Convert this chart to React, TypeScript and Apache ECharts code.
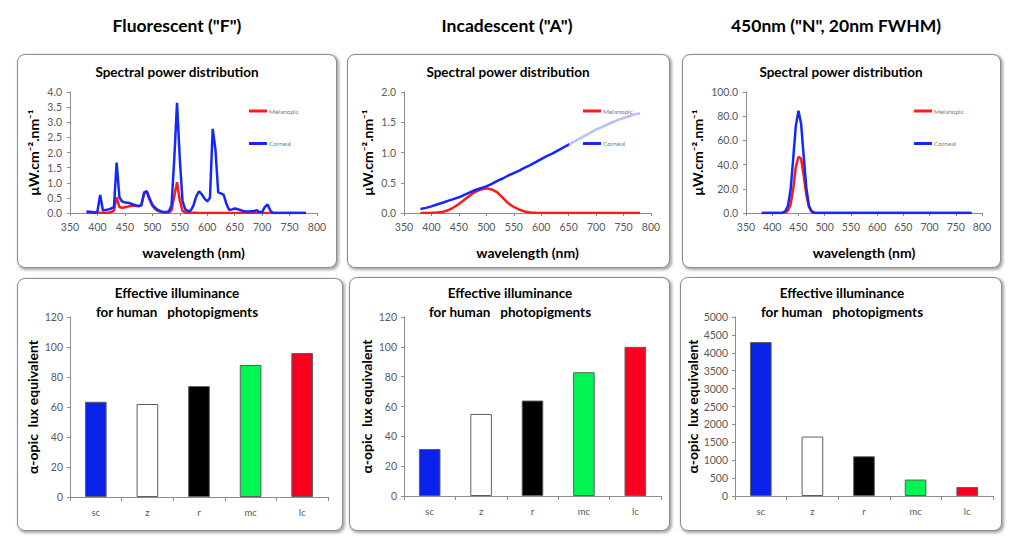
import React, { useEffect, useRef } from "react";
import * as echarts from "echarts";

const FONT = "Lato, 'Open Sans', sans-serif";

// ---------- Fluorescent ("F") spectra ----------
const F_WL = [380, 385, 390, 395, 400, 405, 410, 415, 420, 425, 430, 435, 440, 445, 450, 455, 460, 465, 470, 475, 480, 485, 490, 495, 500, 505, 510, 515, 520, 525, 530, 535, 540, 545, 550, 555, 560, 565, 570, 575, 580, 585, 590, 595, 600, 605, 610, 615, 620, 625, 630, 635, 640, 645, 650, 655, 660, 665, 670, 675, 680, 685, 690, 695, 700, 705, 710, 715, 720, 780];
const F_CORNEAL = [0.05, 0.04, 0.03, 0.01, 0.05, 0.6, 0.08, 0.1, 0.12, 0.15, 0.19, 1.67, 0.52, 0.38, 0.35, 0.34, 0.32, 0.28, 0.25, 0.23, 0.26, 0.68, 0.72, 0.48, 0.28, 0.17, 0.1, 0.06, 0.03, 0.03, 0.05, 0.25, 1.8, 3.64, 1.8, 0.39, 0.12, 0.06, 0.08, 0.25, 0.55, 0.72, 0.62, 0.48, 0.38, 0.5, 2.78, 2.1, 0.68, 0.65, 0.6, 0.3, 0.1, 0.12, 0.15, 0.13, 0.1, 0.07, 0.05, 0.05, 0.06, 0.06, 0.09, 0.03, 0.03, 0.2, 0.28, 0.08, 0, 0];
const F_MELANOPIC = [0, 0, 0, 0, 0.003, 0.01, 0.004, 0.005, 0.01, 0.03, 0.08, 0.52, 0.2, 0.17, 0.19, 0.21, 0.23, 0.24, 0.24, 0.22, 0.25, 0.65, 0.68, 0.44, 0.24, 0.13, 0.07, 0.04, 0.02, 0.015, 0.02, 0.09, 0.55, 1.02, 0.42, 0.07, 0.015, 0.005, 0.003, 0.005, 0.005, 0, 0, 0, 0, 0, 0, 0, 0, 0, 0, 0, 0, 0, 0, 0, 0, 0, 0, 0, 0, 0, 0, 0, 0, 0, 0, 0, 0, 0];

// ---------- Incandescent ("A") spectra ----------
const A_WL = [380, 390, 400, 410, 420, 430, 440, 450, 460, 470, 480, 490, 500, 510, 520, 530, 540, 550, 560, 570, 580, 590, 600, 610, 620, 630, 640, 650, 660, 670, 680, 690, 700, 710, 720, 730, 740, 750, 760, 770, 780];
const A_CORNEAL = [0.066, 0.085, 0.11, 0.14, 0.17, 0.2, 0.23, 0.26, 0.3, 0.34, 0.38, 0.41, 0.44, 0.48, 0.53, 0.57, 0.62, 0.66, 0.7, 0.75, 0.79, 0.84, 0.89, 0.94, 0.98, 1.03, 1.08, 1.13, 1.18, 1.23, 1.28, 1.33, 1.38, 1.42, 1.46, 1.5, 1.54, 1.57, 1.6, 1.63, 1.65];
const A_MELANOPIC = [0, 0, 0.003, 0.008, 0.017, 0.045, 0.09, 0.15, 0.22, 0.29, 0.35, 0.39, 0.41, 0.39, 0.34, 0.25, 0.16, 0.1, 0.055, 0.025, 0.01, 0.003, 0, 0, 0, 0, 0, 0, 0, 0, 0, 0, 0, 0, 0, 0, 0, 0, 0, 0, 0];

// ---------- 450nm ("N") spectra ----------
const N_WL = [380, 415, 420, 425, 430, 435, 440, 445, 450, 455, 460, 465, 470, 475, 480, 485, 780];
const N_CORNEAL = [0, 0, 0.3, 1.5, 6, 19, 45, 72, 84.5, 74, 47, 21, 6, 1.5, 0.3, 0, 0];
const N_MELANOPIC = [0, 0, 0.1, 0.4, 2, 7, 20, 38, 46.5, 45, 31, 15, 5, 1.2, 0.3, 0, 0];

// ---------- Effective illuminance bars ----------
const BAR_CATEGORIES = ["sc", "z", "r", "mc", "lc"];
const F_BARS = [63.5, 62, 74, 88, 96];
const A_BARS = [31.5, 55, 64, 83, 100];
const N_BARS = [4300, 1660, 1110, 460, 250];
const BAR_COLORS = ["#0A22EA", "#FFFFFF", "#000000", "#00F552", "#F8001E"];

const COLUMN_TITLES = ['Fluorescent ("F")', 'Incadescent ("A")', '450nm ("N", 20nm FWHM)'];
const LEGEND_NAMES = ["Melanopic", "Corneal"];

const RED = "#FF1A1A";
const BLUE = "#1428FA";

const pairs = (xs: number[], ys: number[]) => xs.map((x, i) => [x, ys[i]]);

const AXIS_COLOR = "#8c8c8c";
const LABEL_COLOR = "#595959";

const lineGrids = [
  { left: 70, top: 92, width: 247, height: 121 },
  { left: 404, top: 92, width: 247, height: 121 },
  { left: 746, top: 92, width: 236, height: 121 },
];
const barGrids = [
  { left: 70, top: 317, width: 258, height: 180 },
  { left: 404, top: 317, width: 257, height: 179 },
  { left: 735, top: 317, width: 258, height: 179 },
];

const lineY = [
  { max: 4, interval: 0.5 },
  { max: 2, interval: 0.5 },
  { max: 100, interval: 20 },
];
const barY = [
  { max: 120, interval: 20 },
  { max: 120, interval: 20 },
  { max: 5000, interval: 500 },
];

const boxes = [
  { x: 17, y: 54, w: 320, h: 214 },
  { x: 347, y: 54, w: 323, h: 214 },
  { x: 682, y: 54, w: 319, h: 214 },
  { x: 17, y: 278, w: 326, h: 253 },
  { x: 349, y: 277, w: 321, h: 254 },
  { x: 680, y: 277, w: 322, h: 254 },
];

const headerX = [177, 507, 836];
const topTitleX = [177, 508, 841];
const botTitleX = [177, 510, 842];
const legendLeft = [249, 583, 914];

function txt(text: string, x: number, y: number, size: number, weight = "bold") {
  return {
    type: "text",
    x,
    y,
    silent: true,
    style: {
      text,
      fill: "#000",
      fontSize: size,
      fontWeight: weight,
      fontFamily: FONT,
      align: "center",
      verticalAlign: "middle",
      textAlign: "center",
      textVerticalAlign: "middle",
    },
  };
}

function buildOption() {
  const grid: any[] = [...lineGrids, ...barGrids];
  const xAxis: any[] = [];
  const yAxis: any[] = [];
  const series: any[] = [];

  const lineData = [
    [pairs(F_WL, F_MELANOPIC), pairs(F_WL, F_CORNEAL)],
    [pairs(A_WL, A_MELANOPIC), pairs(A_WL, A_CORNEAL)],
    [pairs(N_WL, N_MELANOPIC), pairs(N_WL, N_CORNEAL)],
  ];

  for (let i = 0; i < 3; i++) {
    xAxis.push({
      type: "value",
      gridIndex: i,
      min: 350,
      max: 800,
      interval: 50,
      axisLine: { show: true, lineStyle: { color: AXIS_COLOR } },
      axisTick: { show: true, length: 3, lineStyle: { color: AXIS_COLOR } },
      splitLine: { show: false },
      axisLabel: { color: LABEL_COLOR, fontSize: 10.5, fontFamily: FONT, margin: 8 },
      name: "wavelength (nm)",
      nameLocation: "middle",
      nameGap: 32,
      nameTextStyle: { color: "#000", fontWeight: "bold", fontSize: 14, fontFamily: FONT },
    });
    yAxis.push({
      type: "value",
      gridIndex: i,
      min: 0,
      max: lineY[i].max,
      interval: lineY[i].interval,
      axisLine: { show: true, lineStyle: { color: AXIS_COLOR } },
      axisTick: { show: true, length: 3, lineStyle: { color: AXIS_COLOR } },
      splitLine: { show: false },
      axisLabel: {
        color: LABEL_COLOR,
        fontSize: 10.5,
        fontFamily: FONT,
        margin: 8,
        formatter: (v: number) => v.toFixed(1),
      },
      name: "μW.cm⁻².nm⁻¹",
      nameLocation: "middle",
      nameGap: i === 2 ? 42 : 30,
      nameTextStyle: { color: "#000", fontWeight: "bold", fontSize: 14, fontFamily: FONT },
    });
    series.push({
      type: "line",
      name: LEGEND_NAMES[0],
      xAxisIndex: i,
      yAxisIndex: i,
      data: lineData[i][0],
      showSymbol: false,
      symbol: "none",
      lineStyle: { color: RED, width: 2.5 },
      itemStyle: { color: RED },
      z: 2,
    });
    series.push({
      type: "line",
      name: LEGEND_NAMES[1],
      xAxisIndex: i,
      yAxisIndex: i,
      data: lineData[i][1],
      showSymbol: false,
      symbol: "none",
      lineStyle: { color: BLUE, width: 2.5 },
      itemStyle: { color: BLUE },
      z: 2,
    });
  }

  const barData = [F_BARS, A_BARS, N_BARS];
  for (let j = 0; j < 3; j++) {
    const gi = 3 + j;
    xAxis.push({
      type: "category",
      gridIndex: gi,
      data: BAR_CATEGORIES,
      axisLine: { show: true, lineStyle: { color: AXIS_COLOR } },
      axisTick: { show: true, length: 4, alignWithLabel: false, lineStyle: { color: AXIS_COLOR } },
      axisLabel: { color: LABEL_COLOR, fontSize: 9.5, fontFamily: FONT, margin: 10 },
      splitLine: { show: false },
    });
    yAxis.push({
      type: "value",
      gridIndex: gi,
      min: 0,
      max: barY[j].max,
      interval: barY[j].interval,
      axisLine: { show: true, lineStyle: { color: AXIS_COLOR } },
      axisTick: { show: true, length: 3, lineStyle: { color: AXIS_COLOR } },
      splitLine: { show: false },
      axisLabel: {
        color: LABEL_COLOR,
        fontSize: 10.5,
        fontFamily: FONT,
        margin: 7,
        formatter: (v: number) => String(v),
      },
      name: "α-opic  lux equivalent",
      nameLocation: "middle",
      nameGap: 31,
      nameTextStyle: { color: "#000", fontWeight: "bold", fontSize: 14, fontFamily: FONT },
    });
    series.push({
      type: "bar",
      xAxisIndex: gi,
      yAxisIndex: gi,
      barWidth: "42%",
      data: barData[j].map((v, k) => ({
        value: v,
        itemStyle: { color: BAR_COLORS[k], borderColor: "#5f5f5f", borderWidth: 1 },
      })),
    });
  }

  const legend = legendLeft.map((l) => ({
    data: LEGEND_NAMES,
    left: l,
    top: 107.5,
    orient: "vertical",
    padding: 0,
    itemGap: 25.5,
    itemWidth: 18,
    itemHeight: 3,
    icon: "rect",
    selectedMode: false,
    z: 10,
    textStyle: { fontSize: 6.5, color: "#7a7a7a", fontFamily: FONT, padding: [0, 0, 0, -3] },
  }));

  const graphic: any[] = [];
  COLUMN_TITLES.forEach((t, i) => graphic.push(txt(t, headerX[i], 25, 17.5)));
  topTitleX.forEach((x) => graphic.push(txt("Spectral power distribution", x, 72, 13.5)));
  botTitleX.forEach((x) => {
    graphic.push(txt("Effective illuminance", x, 293, 13.5));
    graphic.push(txt("for human   photopigments", x, 312, 13.5));
  });
  // semi-transparent legend background in the incandescent panel (fades the line beneath it)
  graphic.push({
    type: "rect",
    silent: true,
    z: 3,
    shape: { x: 569, y: 100, width: 90, height: 55 },
    style: { fill: "rgba(255,255,255,0.7)" },
  });

  return {
    animation: false,
    grid,
    xAxis,
    yAxis,
    series,
    legend,
    graphic,
  };
}

export default function App() {
  const ref = useRef<HTMLDivElement>(null);
  useEffect(() => {
    document.body.style.margin = "0";
    const chart = echarts.init(ref.current as HTMLDivElement, null, { renderer: "svg" });
    chart.setOption(buildOption() as any);
    return () => chart.dispose();
  }, []);
  return (
    <div style={{ position: "relative", width: 1020, height: 539, background: "#fff", overflow: "hidden" }}>
      {boxes.map((b, i) => (
        <div
          key={i}
          style={{
            position: "absolute",
            left: b.x,
            top: b.y,
            width: b.w,
            height: b.h,
            boxSizing: "border-box",
            border: "1px solid #8c8c8c",
            borderRadius: 8,
            background: "#fff",
            boxShadow: "1.5px 1.5px 3px rgba(0,0,0,0.35)",
          }}
        />
      ))}
      <div ref={ref} style={{ position: "absolute", left: 0, top: 0, width: 1020, height: 539 }} />
    </div>
  );
}
